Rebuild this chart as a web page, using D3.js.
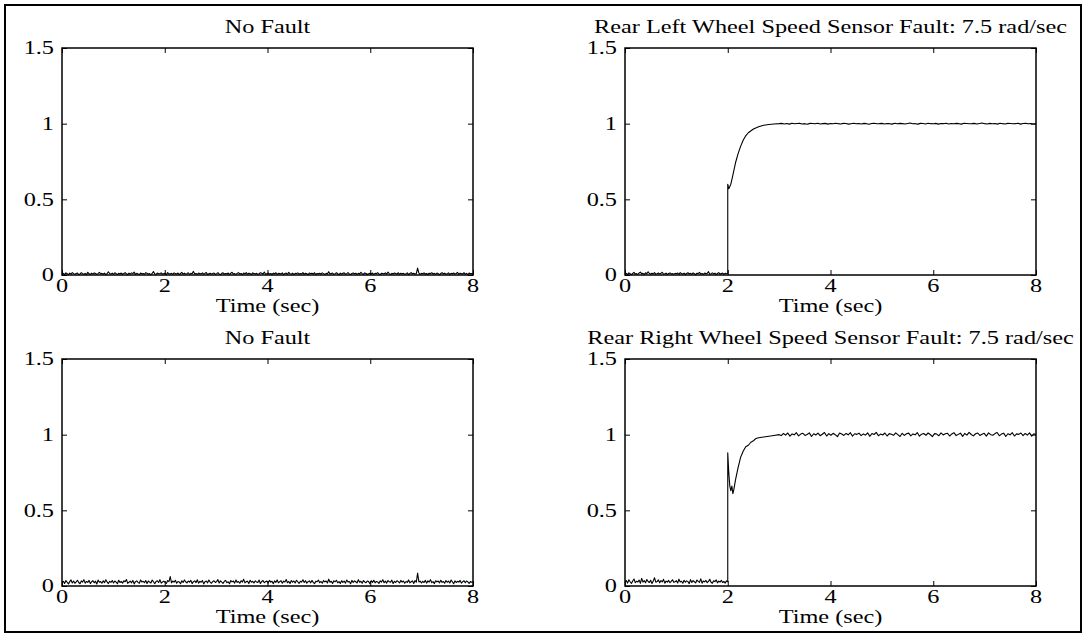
<!DOCTYPE html>
<html>
<head>
<meta charset="utf-8">
<script src="https://cdn.jsdelivr.net/npm/d3@7"></script>
<style>
  body { margin: 0; background: #fff; }
  text { font-family: "Liberation Serif", "Times New Roman", serif; fill: #000; }
</style>
</head>
<body>
<svg width="1086" height="637"></svg>
<script>
// tick labels
var xTicks = [0, 2, 4, 6, 8];
var yTicks = [0, 0.5, 1, 1.5];
var xLabel = "Time (sec)";

var titles = ["No Fault", "Rear Left Wheel Speed Sensor Fault: 7.5 rad/sec",
              "No Fault", "Rear Right Wheel Speed Sensor Fault: 7.5 rad/sec"];

// residual noise, in thousandths, evenly spaced over 0..8 sec
var tlNoise = [5,11,3,14,8,2,12,6,16,9,4,10,13,3,7,15,9,5,11,2,18,8,4,12,6,14,10,3,9,17,7,11,5,13,2,8,21,10,6,12,
4,15,9,3,11,7,13,5,10,16,8,2,12,6,14,9,19,4,11,7,3,13,8,10,5,15,12,6,9,2,11,23,7,4,13,8,10,14,5,9,
12,3,16,8,6,11,4,14,9,7,13,2,10,17,6,12,5,9,15,3,11,8,24,6,10,4,13,9,7,14,5,11,16,3,8,12,6,10,13,4,
9,15,7,2,11,14,5,10,8,13,3,12,18,6,9,4,11,15,7,10,2,13,8,16,5,12,9,3,14,10,6,11,4,8,15,12,7,20,5,9,
13,6,10,3,12,8,15,4,11,9,7,14,2,10,13,5,17,8,6,12,3,11,9,14,5,10,7,16,4,12,8,2,13,9,11,6,15,3,10,8,
12,5,14,9,3,11,7,22,6,10,13,4,9,15,8,2,12,6,11,14,5,9,16,7,3,10,13,8,12,4,11,6,18,9,5,14,10,3,8,12,
7,13,4,11,9,15,6,2,12,10,8,14,5,19,9,3,11,7,13,10,6,15,4,12,8,11,5,9,14,3,10,16,7,12,6,9,46,13,4,11,
8,14,5,10,3,12,9,15,6,11,4,13,8,2,10,16,7,12,5,9,14,3,11,8,13,6,10,17,4,12,9,7,15,5,11,3,13,8,10,6];

var blNoise = [22,31,17,36,25,14,29,40,20,33,18,27,38,23,15,34,26,42,19,30,24,37,16,28,35,21,32,13,39,25,29,18,34,22,41,27,16,31,24,36,
20,33,26,15,38,23,30,19,35,28,43,17,25,32,21,37,14,29,34,24,18,40,27,31,22,36,16,33,26,20,39,28,15,30,35,23,42,19,27,32,
24,17,36,29,62,21,33,25,38,18,30,27,15,35,23,40,28,20,32,26,37,16,29,34,22,41,19,31,25,36,14,28,33,21,39,26,18,30,35,23,
29,42,20,34,25,17,31,37,22,28,15,36,27,33,19,40,24,30,18,35,26,44,21,29,32,16,38,25,31,20,34,27,23,39,17,30,36,22,28,33,
19,37,26,31,15,34,24,40,21,29,35,18,32,27,43,22,30,16,36,25,33,20,38,28,17,31,26,41,23,35,19,29,34,21,37,24,15,32,28,39,
22,30,18,36,27,33,20,45,25,31,16,34,28,38,21,29,17,35,24,32,19,40,26,30,15,37,23,34,28,20,42,25,31,18,36,27,22,33,29,16,
35,24,38,21,30,27,17,34,26,41,22,32,19,36,28,25,39,16,31,23,35,29,20,37,26,33,18,30,24,40,21,28,34,17,36,25,85,27,32,20,
31,23,37,19,34,26,42,22,29,16,35,27,33,21,38,24,30,18,36,25,32,20,39,28,15,34,23,31,26,37,19,29,35,22,33,27,17,30,24,28];

// rear left fault: pre-fault noise 0..2 sec (thousandths), transient, settled 3..8 sec (thousandths)
var trPre = [5,11,3,14,8,2,10,17,6,9,4,13,19,7,11,3,15,8,21,10,5,12,7,16,4,9,13,6,11,18,5,8,12,3,10,14,7,9,5,11,
8,13,4,16,9,6,12,3,10,15,7,11,5,14,8,2,12,9,17,6,10,4,13,8,11,22,5,9,14,7,12,3,10,16,6,9,13,5,11,8,10];
var trTime = [2.0, 2.02, 2.06, 2.1, 2.15, 2.2, 2.25, 2.3, 2.35, 2.4, 2.5, 2.6, 2.7, 2.8, 2.9, 3.0];
var trVal  = [0.6, 0.57, 0.6, 0.66, 0.74, 0.8, 0.85, 0.89, 0.92, 0.94, 0.965, 0.98, 0.99, 0.995, 0.998, 1.0];
var trPost = [1000,1002,998,1001,997,1003,999,1001,1002,998,1000,996,1002,1001,999,1003,998,1000,1002,997,
1001,999,1003,1000,998,1002,1001,997,1000,1003,999,1001,998,1002,1000,996,1001,1003,999,1000,
1002,998,1001,1000,997,1003,999,1002,1000,998,1001,1004,999,1000,997,1002,1001,998,1003,1000,
999,1002,997,1001,1000,1003,998,1001,999,1002,1000,997,1003,1001,999,1000,1002,998,1001,1004,
1000,998,1002,999,1001,997,1003,1000,998,1002,1001,999,1000,1003,997,1001,1002,999,1000,998,1001];

// rear right fault
var brPre = [24,36,19,41,28,17,33,46,22,31,27,39,18,50,26,35,21,43,30,23,38,16,33,54,25,29,40,21,36,27,44,19,32,26,37,22,30,41,24,28,
35,20,45,27,31,18,38,25,34,29,16,42,23,36,28,20,39,31,24,47,19,33,27,37,22,30,44,25,18,35,29,40,21,32,26,38,23,30,19,34,28];
var brTime = [2.0, 2.02, 2.04, 2.06, 2.08, 2.1, 2.12, 2.15, 2.2, 2.25, 2.3, 2.35, 2.4, 2.45, 2.5, 2.55, 2.6, 2.7, 2.8, 2.9, 3.0];
var brVal  = [0.88, 0.75, 0.66, 0.63, 0.66, 0.61, 0.64, 0.7, 0.78, 0.85, 0.89, 0.92, 0.93, 0.95, 0.96, 0.975, 0.98, 0.985, 0.99, 0.995, 1.0];
var brPost = [1002,994,1008,997,1011,990,1005,999,1013,992,1004,1009,995,1001,1012,988,1006,998,1010,993,
1003,1014,991,1007,996,1009,1000,987,1011,1004,995,1008,999,1013,990,1006,1002,1010,994,1005,
997,1012,989,1008,1001,1015,993,1004,998,1011,991,1007,1003,996,1012,1000,988,1009,995,1006,
1010,992,1005,999,1014,990,1003,1008,996,1011,1001,987,1007,1004,993,1012,998,1006,1009,991,
1005,1013,994,1002,1010,989,1008,997,1015,1001,992,1006,1011,995,1003,1009,990,1012,1000,996,
1007,1014,993,1004,1010,988,1006,999,1013,991,1005,1002,1011,994,1008,997,1012,990,1006,1001];

// turn an evenly spaced block of thousandths into {t,v} points between t0 and t1
function spread(vals, t0, t1) {
  var idx = d3.scaleLinear().domain([0, vals.length - 1]).range([t0, t1]);
  return vals.map(function(d, i) { return {t: idx(i), v: d / 1000}; });
}
function pairs(ts, vs) {
  return ts.map(function(t, i) { return {t: t, v: vs[i]}; });
}

var series = [
  spread(tlNoise, 0, 8),
  spread(trPre, 0, 2).concat(pairs(trTime, trVal)).concat(spread(trPost, 3, 8).slice(1)),
  spread(blNoise, 0, 8),
  spread(brPre, 0, 2).concat(pairs(brTime, brVal)).concat(spread(brPost, 3, 8).slice(1))
];

var svg = d3.select("svg");
var fs = 18, sx = 1.35;   // figure text is stretched horizontally

svg.append("rect")
  .attr("x", 5).attr("y", 5).attr("width", 1076).attr("height", 627)
  .attr("fill", "none").attr("stroke", "#000").attr("stroke-width", 2);

var lefts = [62, 625], tops = [48, 359];
var w = 411, h = 227;

function label(g, txt, x, y, anchor, dy) {
  g.append("text")
    .attr("transform", "translate(" + x + "," + y + ") scale(" + sx + ",1)")
    .attr("text-anchor", anchor)
    .attr("dy", dy || 0)
    .style("font-size", fs + "px")
    .text(txt);
}

series.forEach(function(data, k) {
  var px = lefts[k % 2], py = tops[Math.floor(k / 2)];
  var g = svg.append("g").attr("transform", "translate(" + px + "," + py + ")");

  var x = d3.scaleLinear().domain([0, 8]).range([0, w]);
  var y = d3.scaleLinear().domain([0, 1.5]).range([h, 0]);

  // ticks inside on all four sides
  var axes = [
    [d3.axisBottom(x).tickValues(xTicks), "translate(0," + h + ")"],
    [d3.axisTop(x).tickValues(xTicks), "translate(0,0)"],
    [d3.axisLeft(y).tickValues(yTicks), "translate(0,0)"],
    [d3.axisRight(y).tickValues(yTicks), "translate(" + w + ",0)"]
  ];
  axes.forEach(function(a) {
    var ax = a[0].tickSizeInner(-5).tickSizeOuter(0).tickFormat("");
    var ag = g.append("g").attr("transform", a[1]).call(ax);
    ag.select(".domain").remove();
    ag.selectAll("line").attr("stroke", "#000").attr("stroke-width", 1);
  });

  g.append("path")
    .datum(data)
    .attr("fill", "none")
    .attr("stroke", "#000")
    .attr("stroke-width", 1.1)
    .attr("stroke-linejoin", "round")
    .attr("d", d3.line().x(function(d) { return x(d.t); }).y(function(d) { return y(d.v); }));

  g.append("rect")
    .attr("width", w).attr("height", h)
    .attr("fill", "none").attr("stroke", "#000").attr("stroke-width", 1.5);

  xTicks.forEach(function(t) { label(g, String(t), x(t), h + 17, "middle"); });
  yTicks.forEach(function(t) { label(g, String(t), -8, y(t), "end", "0.35em"); });
  label(g, xLabel, w / 2, h + 37, "middle");
  label(g, titles[k], w / 2, -15, "middle");
});
</script>
</body>
</html>
